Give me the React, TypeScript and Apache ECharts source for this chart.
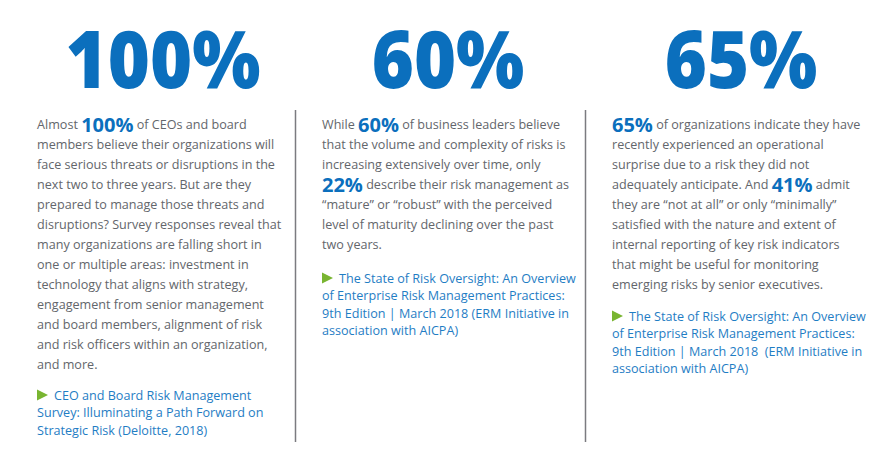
import React, { useEffect, useRef } from "react";
import * as echarts from "echarts";

const bigStats = ["100%", "60%", "65%"];

const bodyCol1 = [
  "Almost {h|100%} of CEOs and board",
  "members believe their organizations will",
  "face serious threats or disruptions in the",
  "next two to three years. But are they",
  "prepared to manage those threats and",
  "disruptions? Survey responses reveal that",
  "many organizations are falling short in",
  "one or multiple areas: investment in",
  "technology that aligns with strategy,",
  "engagement from senior management",
  "and board members, alignment of risk",
  "and risk officers within an organization,",
  "and more.",
];
const sourceCol1 = [
  "CEO and Board Risk Management",
  "Survey: Illuminating a Path Forward on",
  "Strategic Risk (Deloitte, 2018)",
];

const bodyCol2 = [
  "While {h|60%} of business leaders believe",
  "that the volume and complexity of risks is",
  "increasing extensively over time, only",
  "{h|22%} describe their risk management as",
  "\u201cmature\u201d or \u201crobust\u201d with the perceived",
  "level of maturity declining over the past",
  "two years.",
];
const sourceCol2 = [
  "The State of Risk Oversight: An Overview",
  "of Enterprise Risk Management Practices:",
  "9th Edition | March 2018 (ERM Initiative in",
  "association with AICPA)",
];

const bodyCol3 = [
  "{h|65%} of organizations indicate they have",
  "recently experienced an operational",
  "surprise due to a risk they did not",
  "adequately anticipate. And {h|41%} admit",
  "they are \u201cnot at all\u201d or only \u201cminimally\u201d",
  "satisfied with the nature and extent of",
  "internal reporting of key risk indicators",
  "that might be useful for monitoring",
  "emerging risks by senior executives.",
];
const sourceCol3 = [
  "The State of Risk Oversight: An Overview",
  "of Enterprise Risk Management Practices:",
  "9th Edition | March 2018  (ERM Initiative in",
  "association with AICPA)",
];

const bodies = [bodyCol1, bodyCol2, bodyCol3];
const sources = [sourceCol1, sourceCol2, sourceCol3];

const BLUE = "#0b6fbd";
const GRAY = "#63666b";
const SRC_BLUE = "#1f7dc4";
const GREEN = "#79b531";
const FONT = "'Open Sans', 'Noto Sans', sans-serif";

export default function App() {
  const ref = useRef<HTMLDivElement>(null);
  useEffect(() => {
    if (!ref.current) return;
    const chart = echarts.init(ref.current, null, { renderer: "svg" });

    const colX = [37, 322, 612];
    const bigX = [163, 448, 741];
    const bodyTop = 124;
    const bodyStep = 20;
    const srcStep = 17.5;
    const srcTop = [395, 278, 316];

    const elements: any[] = [];

    bigStats.forEach((s, i) => {
      elements.push({
        type: "text",
        x: bigX[i],
        y: 57,
        scaleX: 0.9,
        style: {
          text: s,
          fontFamily: FONT,
          fontWeight: 800,
          fontSize: 80,
          fill: BLUE,
          align: "center",
          verticalAlign: "middle",
        },
      });
    });

    bodies.forEach((lines, c) => {
      lines.forEach((ln, i) => {
        elements.push({
          type: "text",
          x: colX[c],
          y: bodyTop + i * bodyStep,
          style: {
            text: ln,
            fontFamily: FONT,
            fontSize: 12.6,
            fill: GRAY,
            align: "left",
            verticalAlign: "middle",
            rich: {
              h: {
                fontFamily: FONT,
                fontSize: 20,
                fontWeight: "bold",
                fill: BLUE,
                color: BLUE,
                verticalAlign: "bottom",
              },
            },
          },
        });
      });
    });

    sources.forEach((lines, c) => {
      const y0 = srcTop[c];
      elements.push({
        type: "polygon",
        shape: {
          points: [
            [colX[c], y0 - 5.5],
            [colX[c] + 11, y0],
            [colX[c], y0 + 5.5],
          ],
        },
        style: { fill: GREEN },
      });
      lines.forEach((ln, i) => {
        elements.push({
          type: "text",
          x: colX[c] + (i === 0 ? 17 : 0),
          y: y0 + i * srcStep,
          style: {
            text: ln,
            fontFamily: FONT,
            fontSize: 12.6,
            fill: SRC_BLUE,
            align: "left",
            verticalAlign: "middle",
          },
        });
      });
    });

    [295.5, 585.5].forEach((x) => {
      elements.push({
        type: "line",
        shape: { x1: x, y1: 110, x2: x, y2: 442 },
        style: { stroke: "#7b7b80", lineWidth: 1.5 },
      });
    });

    chart.setOption({
      animation: false,
      backgroundColor: "#ffffff",
      graphic: { elements },
    });
    return () => chart.dispose();
  }, []);
  return (
    <div
      ref={ref}
      style={{ width: 881, height: 454, position: "absolute", left: 0, top: 0 }}
    />
  );
}
